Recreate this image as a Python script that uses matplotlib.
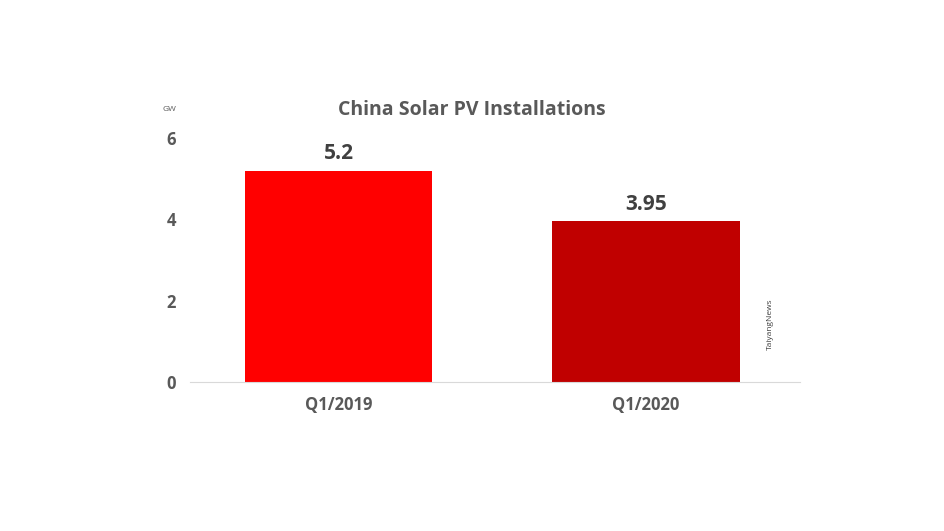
import matplotlib.pyplot as plt

# data
categories = ["Q1/2019", "Q1/2020"]
values = [5.2, 3.95]
labels = ["5.2", "3.95"]
colors = ["#FF0000", "#C00000"]

plt.rcParams["font.family"] = ["Open Sans", "DejaVu Sans"]
grey = "#595959"

fig = plt.figure(figsize=(9.44, 5.31), dpi=100)
ax = fig.add_axes([0.201, 0.281, 0.646, 0.459])

x = list(range(len(categories)))
ax.bar(x, values, width=0.61, color=colors)
for xi, v, lab in zip(x, values, labels):
    ax.text(xi, v + 0.15, lab, ha="center", va="bottom", fontsize=15,
            fontweight="bold", color="#404040")

ax.set_xlim(-0.485, 1.5)
ax.set_ylim(0, 6)
ax.set_yticks([0, 2, 4, 6])
ax.set_xticks(x)
ax.set_xticklabels(categories)
ax.tick_params(axis="both", length=0, labelsize=12, colors=grey, pad=10)
for lab in ax.get_xticklabels() + ax.get_yticklabels():
    lab.set_fontweight("bold")
for s in ["top", "right", "left"]:
    ax.spines[s].set_visible(False)
ax.spines["bottom"].set_color("#D9D9D9")

fig.text(0.5, 0.793, "China Solar PV Installations", ha="center", va="center",
         fontsize=14, fontweight="bold", color=grey)
fig.text(0.18, 0.793, "GW", ha="center", va="center", fontsize=6, color=grey)
fig.text(0.816, 0.39, "TaiyangNews", rotation=90, ha="center", va="center",
         fontsize=6, color="#404040")

fig.savefig("out.png", dpi=100)
